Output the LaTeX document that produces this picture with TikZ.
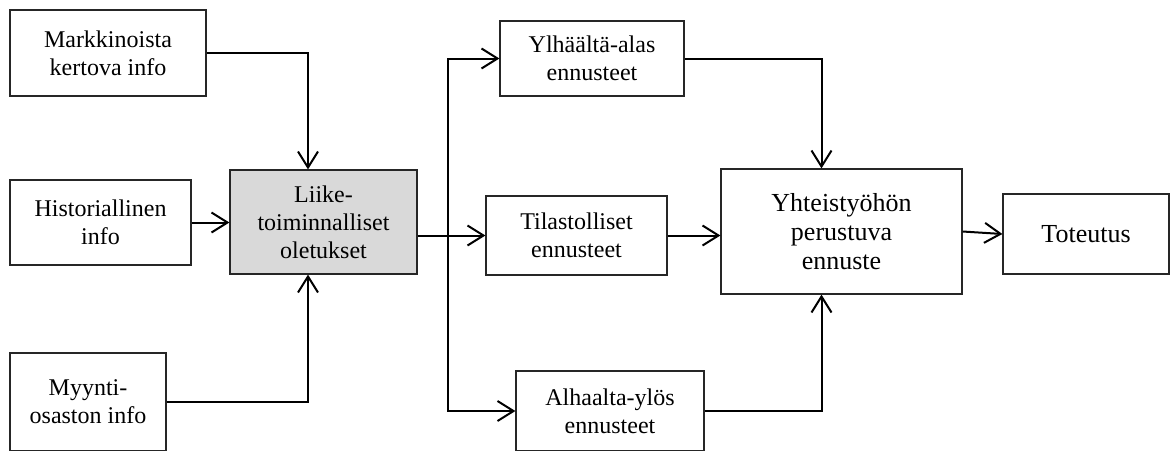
\documentclass[tikz,border=0pt]{standalone}
\usepackage{fontspec}
\setmainfont{Liberation Serif}
\usetikzlibrary{arrows.meta, positioning, calc}

\begin{document}
\begin{tikzpicture}[
    x=0.5pt, y=-0.5pt,
    box/.style={draw=black!85, rectangle, line width=0.6pt, inner sep=0pt, align=center, fill=white, font=\fontsize{12}{14}\selectfont},
    mainbox/.style={box, fill=black!15},
    bigbox/.style={box, font=\fontsize{13}{14.5}\selectfont},
    arrow/.style={-{Straight Barb[length=8pt, width=10pt, line width=1pt]}, line width=1pt, draw=black},
    line/.style={line width=1pt, draw=black}
  ]
    \useasboundingbox (0,0) rectangle (1170,450);
    \clip (0,0) rectangle (1170,450);

    % Nodes
    \node[box, minimum width=98pt, minimum height=43pt] (market) at (108,53) {Markkinoista\\kertova info};
    \node[box, minimum width=90.5pt, minimum height=42.5pt] (history) at (100.5,222.5) {Historiallinen\\info};
    \node[box, minimum width=78pt, minimum height=49pt] (sales) at (88,402) {Myynti-\\osaston info};

    \node[mainbox, minimum width=93.5pt, minimum height=52pt] (business) at (323.5,222) {Liike-\\toiminnalliset\\oletukset};

    \node[box, minimum width=92pt, minimum height=37.5pt] (topdown) at (592,58.5) {Ylhäältä-alas\\ennusteet};
    \node[box, minimum width=90.5pt, minimum height=39.5pt] (stat) at (576.5,235.5) {Tilastolliset\\ennusteet};
    \node[box, minimum width=94pt, minimum height=40pt] (bottomup) at (610,411) {Alhaalta-ylös\\ennusteet};

    \node[bigbox, minimum width=120.5pt, minimum height=62.5pt] (collab) at (841.5,231.5) {Yhteistyöhön\\perustuva\\ennuste};
    \node[bigbox, minimum width=83pt, minimum height=40pt] (exec) at (1086,234) {Toteutus};

    \coordinate (split) at ($(business.east |- stat.west)+(15pt,0)$);

    % Connections
    \draw[arrow] (market.east) -| ([xshift=-7.75pt]business.north);
    \draw[arrow] (history.east) -- (history.east -| business.west);
    \draw[arrow] (sales.east) -| ([xshift=-7.75pt]business.south);

    \draw[line] (business.east |- stat.west) -- (split);
    \draw[arrow] (split) |- (topdown.west);
    \draw[arrow] (split) -- (stat.west);
    \draw[arrow] (split) |- (bottomup.west);

    \draw[arrow] (topdown.east) -| ([xshift=-10pt]collab.north);
    \draw[arrow] (stat.east) -- (stat.east -| collab.west);
    \draw[arrow] (bottomup.east) -| ([xshift=-10pt]collab.south);
    \draw[arrow] (collab.east) -- (exec.west);

  \end{tikzpicture}
\end{document}
